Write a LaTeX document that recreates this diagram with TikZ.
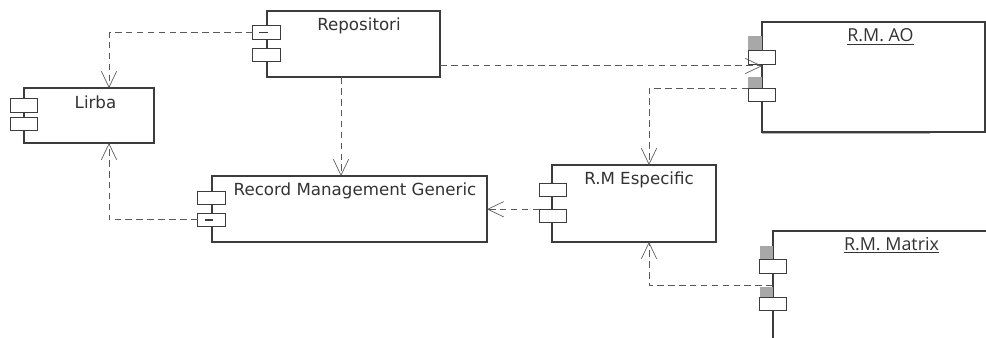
\documentclass[tikz,border=0pt]{standalone}
\usepackage{fontspec}
\setmainfont{DejaVu Sans}
\newfontfamily\titlefont{Open Sans}
\usetikzlibrary{arrows.meta,calc,shadows}
\definecolor{boxline}{HTML}{3C3C3C}
\definecolor{txt}{HTML}{333333}
\definecolor{depline}{HTML}{5A5A5A}
\definecolor{portshade}{HTML}{A8A8A8}
\begin{document}
\begin{tikzpicture}[x=0.75pt,y=-0.75pt,
  comp/.style 2 args={draw=boxline, fill=white, line width=0.9pt, inner sep=0pt, outer sep=0pt,
    anchor=north west, minimum width=#1*0.75pt, minimum height=#2*0.75pt},
  shadowed/.style={drop shadow={shadow xshift=1.1pt, shadow yshift=-1.1pt, fill=black!35, opacity=0.6}},
  port/.style={draw=boxline, fill=white, line width=0.9pt, inner sep=0pt, outer sep=0pt,
    minimum width=27.5*0.75pt, minimum height=13.5*0.75pt},
  pshade/.style={fill=portshade, draw=none},
  ttl/.style={anchor=base, text=txt, inner sep=0pt, font=\fontsize{12.5}{15}\selectfont},
  uttl/.style={anchor=base, text=txt, inner sep=0pt, font=\titlefont\fontsize{13.4}{16}\selectfont},
  dep/.style={draw=depline, line width=0.75pt, dash pattern=on 5pt off 3.2pt,
    -{Straight Barb[length=12pt,width=11.5pt,line width=0.5pt]}},
  minus/.style={draw=boxline, line width=0.9pt}
]
\useasboundingbox (0,0) rectangle (986,338);
\clip (0,0) rectangle (986,338);
\fill[white] (0,0) rectangle (986,338);

% component boxes
\node[comp={173}{66}, shadowed] (repo) at (267,11) {};
\node[comp={130}{55}, shadowed] (lirba) at (24,88) {};
\node[comp={275}{66}, shadowed] (rmg) at (212,176) {};
\node[comp={164}{77}, shadowed] (esp) at (552,165) {};
\node[comp={223}{110}] (ao) at (762,22) {};
\node[comp={250}{150}] (mat) at (773,231) {};
\draw[black!30, line width=0.8pt] (762,133.6) -- (930,133.6);

% titles
\node[ttl] (trepo) at (359,31) {Repositori};
\node[ttl] (tlirba) at (95.5,108.5) {Lirba};
\node[ttl] (trmg) at (355,196) {Record Management Generic};
\node[ttl] (tesp) at (639,185) {R.M Especific};
\node[uttl] (tao) at (880.5,42) {\underline{R.M. AO}};
\node[uttl] (tmat) at (891.5,250.5) {\underline{R.M. Matrix}};

% port shades
\fill[pshade] (748,36) rectangle (762,51);
\fill[pshade] (748,77) rectangle (762,88);
\fill[pshade] (760,246) rectangle (773,260);
\fill[pshade] (760,287) rectangle (773,297);

% ports
\node[port] (rp1) at (266.5,32.5) {};
\node[port] (rp2) at (266.5,55) {};
\node[port] (lp1) at (24,105.5) {};
\node[port] (lp2) at (24,124) {};
\node[port] (gp1) at (211.5,198) {};
\node[port] (gp2) at (211.5,220) {};
\node[port] (ep1) at (553,190) {};
\node[port] (ep2) at (553,216) {};
\node[port] (aop1) at (762,57.5) {};
\node[port] (aop2) at (762,95) {};
\node[port] (mp1) at (773,266.5) {};
\node[port] (mp2) at (773,304) {};

% minus signs
\draw[minus] ($(rp1.center)+(-8,0)$) -- ($(rp1.center)+(1,0)$);
\draw[minus] ($(gp2.center)+(-7,0)$) -- ($(gp2.center)+(1.5,0)$);

% dependencies
\draw[dep] (rp1.west) -| ($(lirba.north west)+(85,0)$);
\draw[dep] ($(repo.south west)+(74,0)$) -- ($(rmg.north west)+(129,0)$);
\coordinate (r3) at ($(repo.south east)+(0,-11)$);
\draw[dep] (r3) -- (r3 -| ao.west);
\draw[dep] (aop2.north west) -| ($(esp.north)+(15,0)$);
\coordinate (m5) at ($(mat.north west)+(0,55)$);
\draw[dep] (m5) -| ($(esp.south)+(15,0)$);
\draw[dep] (ep2.north west) -- (ep2.north west -| rmg.east);
\draw[dep] (gp2.west) -| ($(lirba.south west)+(85,0)$);
\end{tikzpicture}
\end{document}
